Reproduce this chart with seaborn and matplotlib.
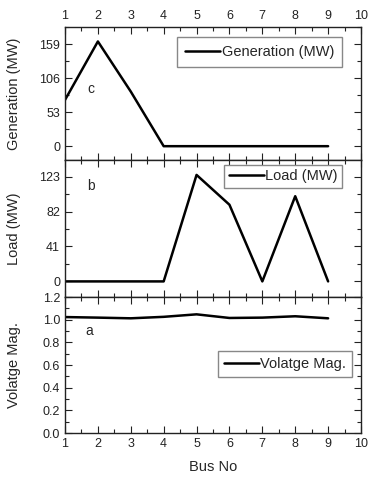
import matplotlib
matplotlib.use("Agg")
import matplotlib.pyplot as plt
import seaborn as sns
import pandas as pd
from matplotlib.ticker import MultipleLocator, AutoMinorLocator, FormatStrFormatter

bus = [1, 2, 3, 4, 5, 6, 7, 8, 9]
generation = [72, 163, 85, 0, 0, 0, 0, 0, 0]
load = [0, 0, 0, 0, 125, 90, 0, 100, 0]
voltage = [1.023, 1.018, 1.012, 1.025, 1.047, 1.015, 1.018, 1.030, 1.012]

sns.set_theme(style="ticks")
plt.rcParams['font.family'] = ['Liberation Sans', 'DejaVu Sans']

fig = plt.figure(figsize=(3.71, 4.80), dpi=100)
left, width = 65 / 371, 296 / 371
ax_c = fig.add_axes([left, 1 - 160 / 480, width, 133 / 480])
ax_b = fig.add_axes([left, 1 - 297 / 480, width, 137 / 480])
ax_a = fig.add_axes([left, 1 - 433 / 480, width, 136 / 480])

df = pd.DataFrame({"Bus": bus, "Gen": generation, "Load": load, "V": voltage})

sns.lineplot(data=df, x="Bus", y="Gen", ax=ax_c, color="black", lw=1.8, label="Generation (MW)")
sns.lineplot(data=df, x="Bus", y="Load", ax=ax_b, color="black", lw=1.8, label="Load (MW)")
sns.lineplot(data=df, x="Bus", y="V", ax=ax_a, color="black", lw=1.8, label="Volatge Mag.")

for ax in (ax_c, ax_b, ax_a):
    ax.set_xlim(1, 10)
    ax.xaxis.set_major_locator(MultipleLocator(1))
    ax.xaxis.set_minor_locator(MultipleLocator(0.5))
    ax.yaxis.set_minor_locator(AutoMinorLocator(2))
    ax.tick_params(which="both", direction="in", top=True, right=True, labelsize=9, colors="#222222")
    ax.tick_params(which="major", length=5, width=0.8)
    ax.tick_params(which="minor", length=3, width=0.8)
    for s in ax.spines.values():
        s.set_linewidth(1.0)
        s.set_color("#222222")
    ax.set_xlabel("")

ax_c.set_ylim(-21.5, 185.5)
ax_c.set_yticks([0, 53, 106, 159])
ax_c.tick_params(labeltop=True, labelbottom=False)
ax_c.set_ylabel("Generation (MW)", fontsize=10.5)
ax_c.text(1.8, 89, "c", fontsize=10, ha="center", va="center")

ax_b.set_ylim(-18.3, 142.5)
ax_b.set_yticks([0, 41, 82, 123])
ax_b.tick_params(labelbottom=False)
ax_b.set_ylabel("Load (MW)", fontsize=10.5)
ax_b.text(1.78, 112, "b", fontsize=10, ha="center", va="center")

ax_a.set_ylim(0, 1.2)
ax_a.yaxis.set_major_locator(MultipleLocator(0.2))
ax_a.yaxis.set_major_formatter(FormatStrFormatter("%.1f"))
ax_a.set_ylabel("Volatge Mag.", fontsize=10.5)
ax_a.set_xlabel("Bus No", fontsize=10.5, labelpad=7)
ax_a.text(1.75, 0.90, "a", fontsize=10, ha="center", va="center")

for ax in (ax_c, ax_b, ax_a):
    ax.yaxis.set_label_coords(-0.15, 0.5)

leg_kw = dict(fontsize=10.5, fancybox=False, framealpha=1, edgecolor="#888888",
              handlelength=2.4, handletextpad=0.1, borderaxespad=0, loc="upper right")
ax_c.legend(bbox_to_anchor=(0.936, 0.925), borderpad=0.55, **leg_kw)
ax_b.legend(bbox_to_anchor=(0.936, 0.963), borderpad=0.3, **leg_kw)
ax_a.legend(bbox_to_anchor=(0.970, 0.603), borderpad=0.4, **leg_kw)

fig.savefig("out.png", dpi=100)
